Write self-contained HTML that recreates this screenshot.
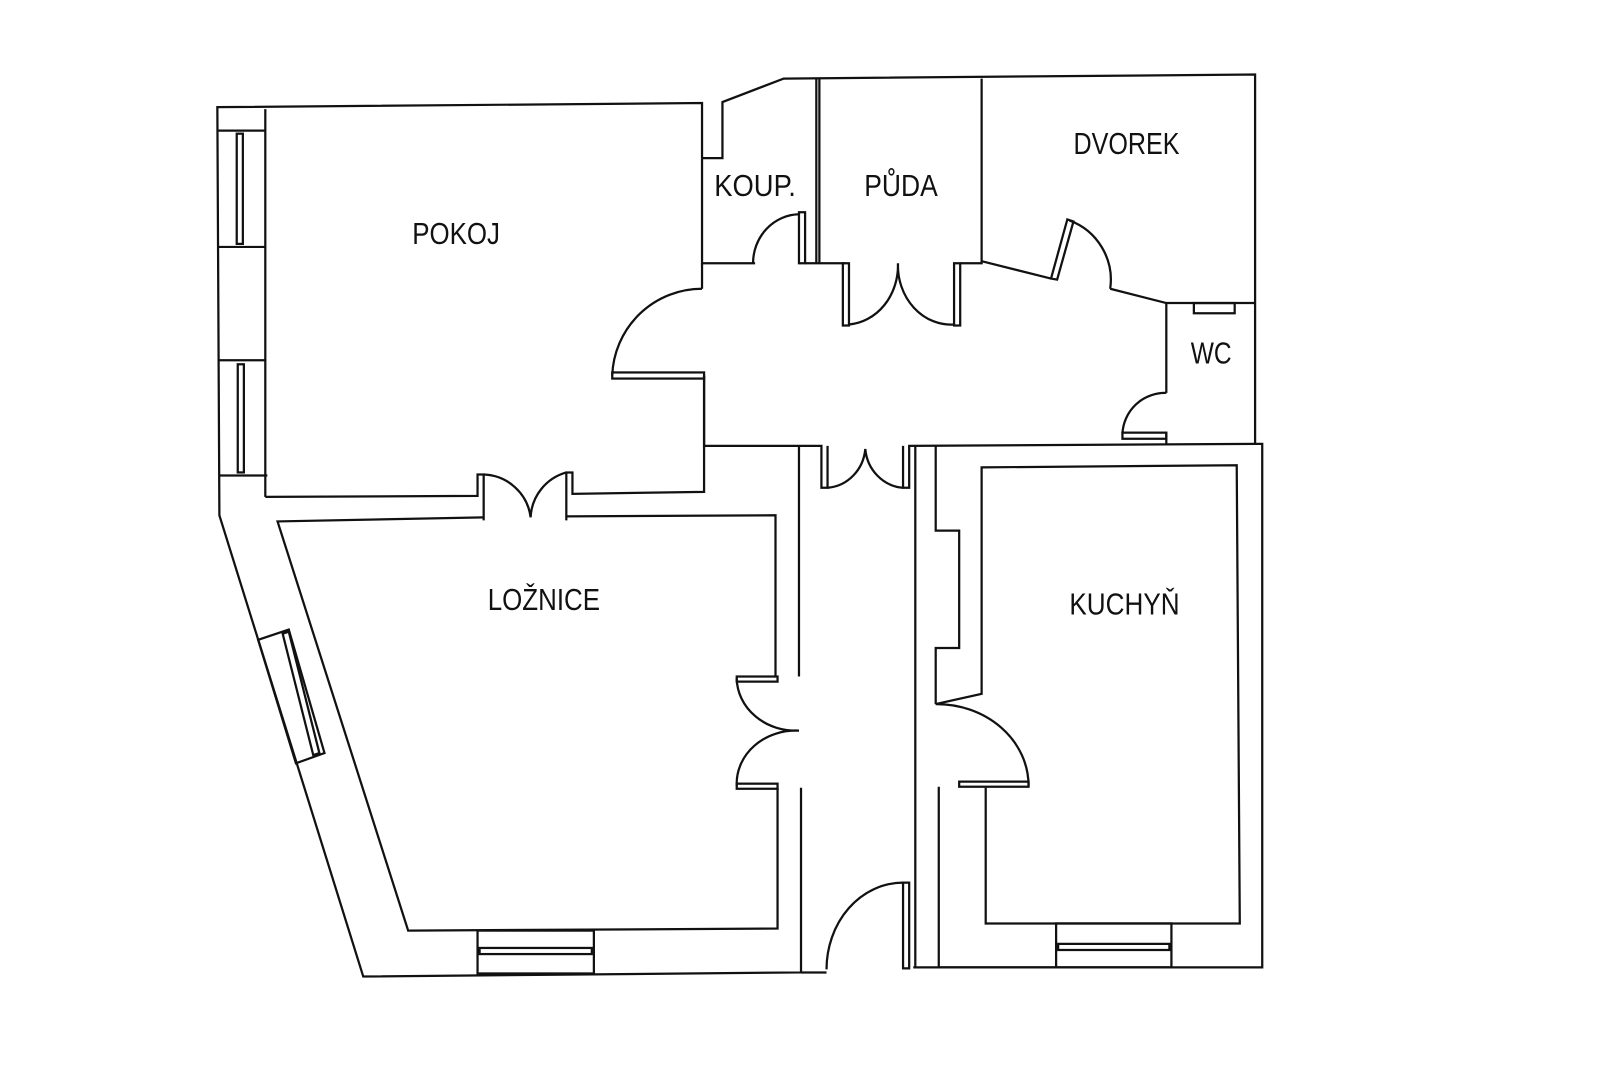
<!DOCTYPE html>
<html><head><meta charset="utf-8"><style>
html,body{margin:0;padding:0;background:#fff;}
svg{display:block;}
text{font-family:"Liberation Sans",sans-serif;font-size:30px;fill:#111;text-anchor:middle;}
</style></head><body>
<svg width="1600" height="1066" viewBox="0 0 1600 1066" xmlns="http://www.w3.org/2000/svg">
<g transform="scale(1.0204)">
<g fill="none" stroke="#111" stroke-width="2.2" stroke-linejoin="miter">
<polyline points="688,155 688,101 213,105 215,505 356,957 785,953 785,772"/>
<polyline points="688,155 708,155 708,100 768,77 1230,73 1230,435 1237,435 1237,948 895,948"/>
<line x1="260" y1="107" x2="260" y2="487"/>
<line x1="213" y1="128" x2="260" y2="128"/>
<line x1="213" y1="242" x2="260" y2="242"/>
<line x1="214" y1="353" x2="261" y2="353"/>
<line x1="215" y1="466" x2="262" y2="466"/>
<rect x="232" y="131" width="6" height="108"/>
<rect x="233" y="357" width="6" height="106"/>
<polyline points="260,487 468,486 468,465 474,465 474,510"/>
<polyline points="555,510 555,463 561,463 561,484 690,482 690,368"/>
<path d="M474,465 A48,48 0 0 1 520,507 A48,48 0 0 1 555,463"/>
<polyline points="688,155 688,258 740,258"/>
<path d="M688,283 A88,88 0 0 0 600,368"/>
<polyline points="688,258 688,283"/>
<rect x="600" y="365" width="90" height="6"/>
<path d="M738,258 A46,48 0 0 1 783,210"/>
<rect x="783" y="208" width="6" height="50"/>
<line x1="800" y1="77" x2="800" y2="258"/>
<line x1="803" y1="77" x2="803" y2="258"/>
<line x1="789" y1="258" x2="828" y2="258"/>
<rect x="826" y="258" width="6" height="61"/>
<rect x="935" y="258" width="6" height="61"/>
<path d="M832,318 A52,58 0 0 0 880,258 A52,58 0 0 0 935,318"/>
<polyline points="941,258 962,258 962,77"/>
<polyline points="962,256 1030,273"/>
<polygon points="1030,273 1036,274 1052,217 1046,215"/>
<path d="M1048,216 A62,62 0 0 1 1088,283"/>
<polyline points="1088,283 1143,297 1230,297"/>
<rect x="1170" y="297" width="40" height="10"/>
<polyline points="1143,297 1143,385"/>
<path d="M1143,385 A42,42 0 0 0 1100,425"/>
<rect x="1100" y="424" width="43" height="6"/>
<polyline points="1143,424 1143,435"/>
<polyline points="690,368 690,437 805,437 805,478 811,478 811,437"/>
<polyline points="885,437 885,478 891,478 891,437 1230,435"/>
<path d="M811,478 A40,42 0 0 0 848,440 A40,42 0 0 0 885,478"/>
<line x1="783" y1="437" x2="783" y2="663"/>
<line x1="897" y1="437" x2="897" y2="948"/>
<polyline points="474,507 272,511 400,912 762,910 762,772"/>
<polyline points="555,506 760,505 760,663"/>
<rect x="722" y="663" width="40" height="5"/>
<rect x="722" y="768" width="40" height="5"/>
<path d="M722,665 A58,52 0 0 0 783,716 A58,52 0 0 0 722,770"/>
<rect x="468" y="912" width="114" height="42"/>
<rect x="470" y="929" width="110" height="6"/>
<polygon points="253,627 283,617 318,738 290,748"/>
<polygon points="277,621 283,619 313,738 307,740"/>
<line x1="785" y1="953" x2="810" y2="953"/>
<path d="M885,865 A75,85 0 0 0 810,950"/>
<rect x="885" y="865" width="6" height="84"/>
<polyline points="917,437 917,520 940,520 940,635 917,635 917,690"/>
<path d="M917,690 A90,80 0 0 1 1008,770"/>
<polyline points="917,690 962,680 962,458 1212,456 1215,905 966,905 966,772"/>
<rect x="940" y="766" width="68" height="5"/>
<polyline points="920,771 920,948 1035,948"/>
<rect x="1035" y="905" width="113" height="43"/>
<rect x="1037" y="925" width="109" height="6"/>
</g>
<text x="447" y="239" textLength="86" lengthAdjust="spacingAndGlyphs">POKOJ</text>
<text x="740" y="192" textLength="80" lengthAdjust="spacingAndGlyphs">KOUP.</text>
<text x="883" y="192" textLength="72" lengthAdjust="spacingAndGlyphs">PŮDA</text>
<text x="1104" y="151" textLength="104" lengthAdjust="spacingAndGlyphs">DVOREK</text>
<text x="1187" y="356" textLength="40" lengthAdjust="spacingAndGlyphs">WC</text>
<text x="533" y="598" textLength="110" lengthAdjust="spacingAndGlyphs">LOŽNICE</text>
<text x="1102" y="602" textLength="108" lengthAdjust="spacingAndGlyphs">KUCHYŇ</text>
</g>
</svg>
</body></html>
